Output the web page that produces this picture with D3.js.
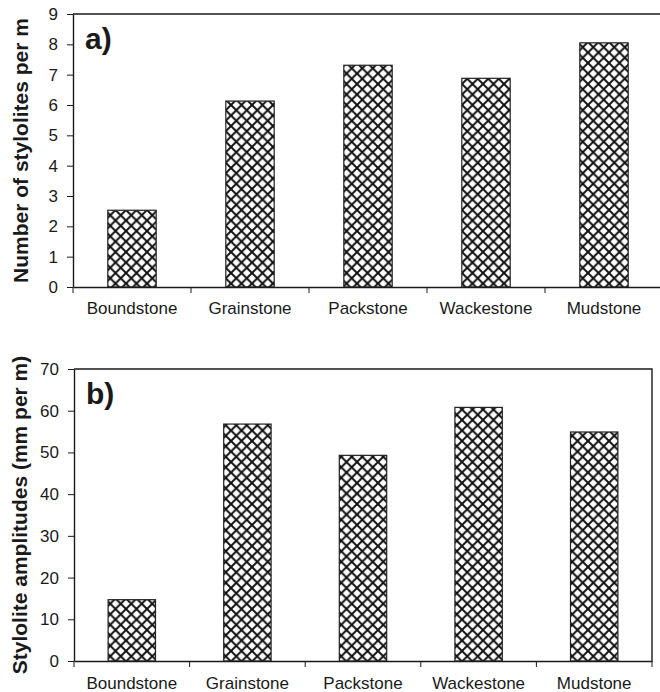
<!DOCTYPE html>
<html>
<head>
<meta charset="utf-8">
<title>Stylolites</title>
<script src="https://d3js.org/d3.v7.min.js"></script>
<style>
  body { margin: 0; background: #fff; }
  svg text { font-family: "Liberation Sans", Arial, sans-serif; fill: #1a1a1a; }
</style>
</head>
<body>
<div id="chart"></div>
<script>
// data
var categories = ["Boundstone", "Grainstone", "Packstone", "Wackestone", "Mudstone"];
var stylolitesPerM = [2.53, 6.13, 7.31, 6.88, 8.05];
var amplitudes = [14.7, 56.8, 49.3, 60.8, 54.9];
var countTicks = [0, 1, 2, 3, 4, 5, 6, 7, 8, 9];
var amplitudeTicks = [0, 10, 20, 30, 40, 50, 60, 70];

var svg = d3.select("#chart").append("svg")
    .attr("width", 660)
    .attr("height", 692);

// cross hatch fill
var tile = 10.5;
var pat = svg.append("defs").append("pattern")
    .attr("id", "hatch")
    .attr("patternUnits", "userSpaceOnUse")
    .attr("width", tile)
    .attr("height", tile);
pat.append("rect").attr("width", tile).attr("height", tile).attr("fill", "#fff");
pat.append("path")
    .attr("d", "M-1,-1L" + (tile + 1) + "," + (tile + 1) + "M" + (tile + 1) + ",-1L-1," + (tile + 1))
    .attr("stroke", "#111")
    .attr("stroke-width", 2);

function panel(o) {
    var g = svg.append("g");

    var x = d3.scaleBand()
        .domain(categories)
        .range([o.left, o.right])
        .paddingInner(0.59)
        .paddingOuter(0.295);
    var xTicks = d3.scaleBand().domain(categories).range([o.left, o.right]);

    var y = d3.scaleLinear()
        .domain([0, o.max])
        .range([o.bottom, o.top]);

    // frame (top and right)
    g.append("path")
        .attr("d", "M" + o.left + "," + o.top + "H" + o.right + "V" + o.bottom)
        .attr("fill", "none")
        .attr("stroke", "#1a1a1a")
        .attr("stroke-width", 1.4);

    // bars
    g.append("g").selectAll("rect")
        .data(o.values)
        .enter().append("rect")
        .attr("x", function (d, i) { return x(categories[i]); })
        .attr("y", function (d) { return y(d); })
        .attr("width", x.bandwidth())
        .attr("height", function (d) { return y(0) - y(d); })
        .attr("fill", "url(#hatch)")
        .attr("stroke", "#222")
        .attr("stroke-width", 1.2);

    // y axis
    var ya = g.append("g")
        .attr("transform", "translate(" + o.left + ",0)")
        .call(d3.axisLeft(y).tickValues(o.ticks).tickSize(6).tickSizeOuter(0).tickPadding(9));
    ya.selectAll("text").style("font-size", "17px");

    // x axis labels
    var xa = g.append("g")
        .attr("transform", "translate(0," + o.bottom + ")")
        .call(d3.axisBottom(x).tickSize(0).tickSizeOuter(0).tickPadding(o.labelPad));
    xa.selectAll("text").style("font-size", "17px");

    // category boundary ticks
    var bounds = categories.map(function (c) { return xTicks(c); }).concat([o.right]);
    g.append("g").selectAll("line")
        .data(bounds)
        .enter().append("line")
        .attr("x1", function (d) { return d; })
        .attr("x2", function (d) { return d; })
        .attr("y1", o.bottom)
        .attr("y2", o.bottom + 6)
        .attr("stroke", "#1a1a1a");

    g.selectAll(".domain").attr("stroke", "#1a1a1a").attr("stroke-width", 1.4);
    g.selectAll(".tick line").attr("stroke", "#1a1a1a");

    // axis title
    g.append("text")
        .attr("transform", "translate(" + o.titleX + "," + (o.top + o.bottom) / 2 + ") rotate(-90)")
        .attr("text-anchor", "middle")
        .style("font-size", "21px")
        .style("font-weight", "bold")
        .text(o.title);

    // panel letter
    g.append("text")
        .attr("x", o.left + 12)
        .attr("y", o.top + 35)
        .style("font-size", "30px")
        .style("font-weight", "bold")
        .text(o.letter);
}

panel({
    values: stylolitesPerM, ticks: countTicks, max: 9,
    left: 73, right: 663, top: 14, bottom: 287,
    labelPad: 15, titleX: 28,
    title: "Number of stylolites per m", letter: "a)"
});

panel({
    values: amplitudes, ticks: amplitudeTicks, max: 70,
    left: 74, right: 652, top: 369, bottom: 661,
    labelPad: 16, titleX: 27,
    title: "Stylolite amplitudes (mm per m)", letter: "b)"
});
</script>
</body>
</html>
